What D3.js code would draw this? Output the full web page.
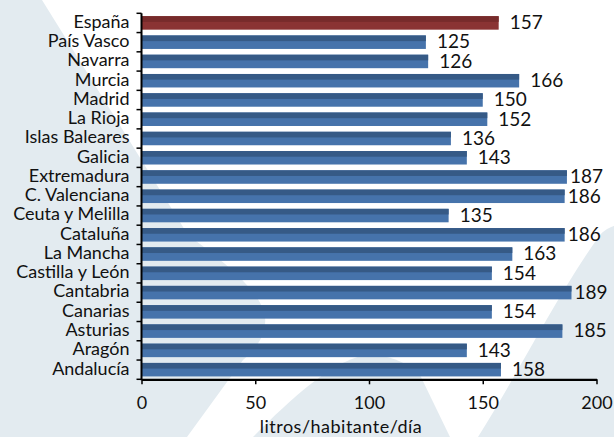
<!DOCTYPE html>
<html>
<head>
<meta charset="utf-8">
<script src="https://cdn.jsdelivr.net/npm/d3@7"></script>
<style>
  html, body { margin: 0; padding: 0; background: #ffffff; }
  svg { display: block; }
  text { font-family: Lato, "Open Sans", sans-serif; fill: #111; }
</style>
</head>
<body>
<svg id="chart" width="614" height="439"></svg>
<script>
// ---- data ----
const categories = ["España", "País Vasco", "Navarra", "Murcia", "Madrid", "La Rioja",
  "Islas Baleares", "Galicia", "Extremadura", "C. Valenciana", "Ceuta y Melilla",
  "Cataluña", "La Mancha", "Castilla y León", "Cantabria", "Canarias", "Asturias",
  "Aragón", "Andalucía"];
const values = [157, 125, 126, 166, 150, 152, 136, 143, 187, 186, 135, 186, 163, 154, 189, 154, 185, 143, 158];
const xTicks = [0, 50, 100, 150, 200];
const axisTitle = "litros/habitante/día";

// ---- layout ----
const W = 614, H = 439;
const svg = d3.select("#chart");
const bgColor = "#e3ebf0";

// decorative background shapes
svg.append("rect").attr("width", W).attr("height", H).attr("fill", "#ffffff");
svg.append("path").attr("fill", bgColor)
  .attr("d", "M0,0 L42,0 L188,235 C215,255 262,290 265,317 C267,335 255,350 243,360 L187,437 L0,437 Z");
svg.append("path").attr("fill", bgColor)
  .attr("d", "M253,437 C290,400 340,352 375,355 C395,357 410,365 420,375 L450,437 Z");
svg.append("path").attr("fill", bgColor)
  .attr("d", "M478,437 C520,370 560,290 600,235 C606,228 614,226 614,226 L614,437 Z");

const x = d3.scaleLinear().domain([0, 200]).range([141.5, 596.5]);
const y = d3.scaleBand().domain(categories).range([13.3, 379.3])
  .paddingInner(0.3).paddingOuter(0.15);

const colors = {
  normal: { light: "#4673ab", dark: "#365a86" },
  total:  { light: "#8a3333", dark: "#772b2b" }
};

const data = categories.map((c, i) => ({ cat: c, v: values[i], total: i === 0 }));

const g = svg.append("g");
const bars = g.selectAll("g.bar").data(data).join("g").attr("class", "bar");
bars.append("rect")
  .attr("x", x(0)).attr("y", d => y(d.cat))
  .attr("width", d => x(d.v) - x(0)).attr("height", y.bandwidth())
  .attr("fill", d => d.total ? colors.total.light : colors.normal.light);
bars.append("rect")
  .attr("x", x(0)).attr("y", d => y(d.cat))
  .attr("width", d => x(d.v) - x(0)).attr("height", y.bandwidth() * 0.42)
  .attr("fill", d => d.total ? colors.total.dark : colors.normal.dark);

// value labels
bars.append("text")
  .attr("x", d => x(d.v) + (d.v > 185 ? 3 : 11))
  .attr("y", d => y(d.cat) + y.bandwidth() / 2)
  .attr("dy", "0.33em")
  .attr("font-size", 19)
  .text(d => d.v);

// y axis: line + ticks at band boundaries
const y0 = y.range()[0], step = y.step();
g.append("line").attr("x1", x(0)).attr("x2", x(0))
  .attr("y1", y0).attr("y2", y.range()[1] + 1)
  .attr("stroke", "#000").attr("stroke-width", 2);
g.selectAll("line.ytick").data(d3.range(categories.length + 1)).join("line")
  .attr("class", "ytick")
  .attr("x1", x(0) - 5).attr("x2", x(0))
  .attr("y1", i => y0 + i * step).attr("y2", i => y0 + i * step)
  .attr("stroke", "#000").attr("stroke-width", 1.5);
g.selectAll("text.ylab").data(categories).join("text")
  .attr("class", "ylab")
  .attr("x", 129.5)
  .attr("y", d => y(d) + y.bandwidth() / 2)
  .attr("dy", "0.27em")
  .attr("text-anchor", "end")
  .attr("font-size", 18)
  .text(d => d);

// x axis
const xAxisY = y.range()[1];
const xa = g.append("g").attr("transform", `translate(0,${xAxisY})`)
  .call(d3.axisBottom(x).tickValues(xTicks).tickSize(5).tickSizeOuter(0).tickPadding(12));
xa.select(".domain").attr("stroke", "#000").attr("stroke-width", 2.2);
xa.selectAll(".tick line").attr("stroke", "#000").attr("stroke-width", 1.5);
xa.selectAll(".tick text").attr("font-size", 18).attr("font-family", "Lato, sans-serif").attr("fill", "#111");

svg.append("text")
  .attr("x", 341).attr("y", 433)
  .attr("text-anchor", "middle")
  .attr("font-size", 18)
  .attr("letter-spacing", 0.5)
  .text(axisTitle);

// white strip at very bottom
svg.append("rect").attr("x", 0).attr("y", 437).attr("width", W).attr("height", 2).attr("fill", "#fff");
</script>
</body>
</html>
